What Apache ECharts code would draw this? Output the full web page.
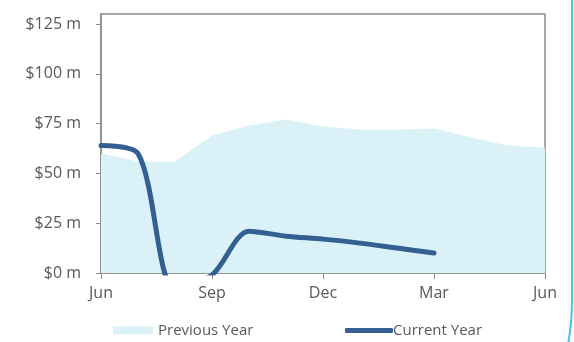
<!DOCTYPE html>
<html>
<head>
<meta charset="utf-8">
<script src="https://cdn.jsdelivr.net/npm/echarts@6/dist/echarts.min.js"></script>
<style>
  html, body { margin: 0; padding: 0; background: #fff; overflow: hidden; }
  #chart { width: 574px; height: 342px; }
  .card-edge {
    position: absolute; left: -41px; top: -20px;
    box-sizing: border-box;
    width: 614px; height: 570px;
    border: 2px solid #45c3df;
    border-radius: 0 0 250px 0;
    pointer-events: none;
  }
</style>
</head>
<body>
<div id="chart"></div>
<div class="card-edge"></div>
<script>
// months Jun..Jun, 13 points
const months = ['Jun', 'Jul', 'Aug', 'Sep', 'Oct', 'Nov', 'Dec', 'Jan', 'Feb', 'Mar', 'Apr', 'May', 'Jun']
const previousYear = [60, 56, 56, 69, 74, 77, 73.5, 72, 72, 72.5, 68, 64, 63]
const currentYear = [64, 60, -8, -1, 21, 18.5, 17, 15, 12.5, 10, null, null, null]
const yTicks = [0, 25, 50, 75, 100, 125]

const font = 'Open Sans'
const grey = '#595959'

const chart = echarts.init(document.getElementById('chart'))
chart.setOption({
  animation: false,
  grid: {
    left: 101,
    right: 29,
    top: 14,
    bottom: 69,
    show: true,
    borderColor: '#8c8c8c',
    borderWidth: 1.5
  },
  legend: [{
    data: ['Previous Year'],
    left: 108,
    top: 318,
    icon: 'rect',
    itemWidth: 40,
    itemHeight: 8,
    textStyle: { color: grey, fontFamily: font, fontSize: 15 }
  }, {
    data: ['Current Year'],
    left: 340,
    top: 318,
    icon: 'roundRect',
    itemWidth: 48,
    itemHeight: 5,
    textStyle: { color: grey, fontFamily: font, fontSize: 15, padding: [0, 0, 0, -5] }
  }],
  xAxis: {
    type: 'category',
    data: months,
    boundaryGap: false,
    axisLine: { lineStyle: { color: '#8c8c8c', width: 1.5 } },
    axisTick: { interval: 2, length: 6, lineStyle: { color: '#8c8c8c' } },
    axisLabel: { interval: 2, color: grey, fontFamily: font, fontSize: 16, margin: 12 },
    splitLine: { show: false }
  },
  yAxis: {
    type: 'value',
    min: 0,
    max: 130,
    interval: 5,
    axisLine: { show: true, lineStyle: { color: '#8c8c8c', width: 1.5 } },
    axisTick: { show: true, length: 5, customValues: yTicks, lineStyle: { color: '#8c8c8c' } },
    axisLabel: {
      customValues: yTicks,
      color: grey, fontFamily: font, fontSize: 16, margin: 20,
      formatter: v => '$' + v + ' m'
    },
    splitLine: { show: false }
  },
  series: [{
    name: 'Previous Year',
    type: 'line',
    data: previousYear,
    showSymbol: false,
    itemStyle: { color: '#daf1f7' },
    lineStyle: { width: 0 },
    areaStyle: { color: '#daf1f7', opacity: 1 }
  }, {
    name: 'Current Year',
    type: 'line',
    data: currentYear,
    smooth: 0.3,
    showSymbol: false,
    clip: true,
    itemStyle: { color: '#335f91' },
    lineStyle: { color: '#335f91', width: 5, cap: 'round' }
  }]
})
</script>
</body>
</html>
